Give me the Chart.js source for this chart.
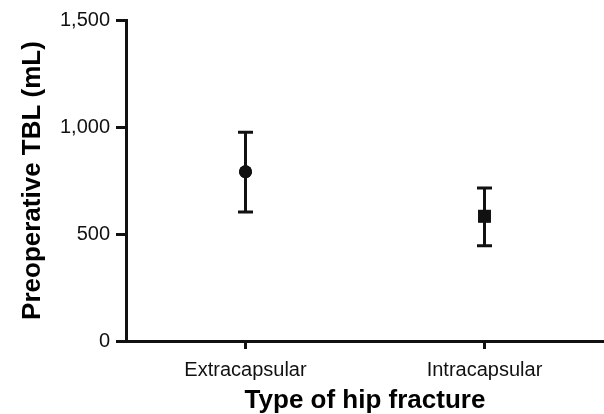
<!DOCTYPE html>
<html>
<head>
<meta charset="utf-8">
<script src="https://cdn.jsdelivr.net/npm/chart.js@4"></script>
<style>
  html, body { margin: 0; padding: 0; background: #fff; }
  #wrap { width: 604px; height: 414px; position: relative; }
</style>
</head>
<body>
<div id="wrap"><canvas id="c"></canvas></div>
<script>
const categories = ['Extracapsular', 'Intracapsular'];
const means = [791, 583];
const lowerBounds = [603, 445];
const upperBounds = [975, 715];
const yTicks = [0, 500, 1000, 1500];
const markerStyles = ['circle', 'rect'];

const errorBars = {
  id: 'errorBars',
  afterDatasetsDraw(chart) {
    const ctx = chart.ctx;
    const meta = chart.getDatasetMeta(0);
    const ys = chart.scales.y;
    ctx.save();
    ctx.strokeStyle = '#111';
    ctx.lineWidth = 3;
    meta.data.forEach((pt, i) => {
      const x = pt.x;
      const yt = ys.getPixelForValue(upperBounds[i]);
      const yb = ys.getPixelForValue(lowerBounds[i]);
      ctx.beginPath();
      ctx.moveTo(x, yt); ctx.lineTo(x, yb);
      ctx.moveTo(x - 7.5, yt); ctx.lineTo(x + 7.5, yt);
      ctx.moveTo(x - 7.5, yb); ctx.lineTo(x + 7.5, yb);
      ctx.stroke();
    });
    ctx.restore();
    meta.controller.draw();
  }
};

new Chart(document.getElementById('c'), {
  type: 'line',
  data: {
    labels: categories,
    datasets: [{
      data: means,
      showLine: false,
      pointStyle: markerStyles,
      pointRadius: [6.5, 9],
      pointBackgroundColor: '#111',
      pointBorderColor: '#111',
      pointBorderWidth: 0
    }]
  },
  options: {
    responsive: true,
    maintainAspectRatio: false,
    animation: false,
    events: [],
    layout: { autoPadding: false, padding: { left: 0, right: 0, top: 20, bottom: 0 } },
    plugins: { legend: { display: false }, tooltip: { enabled: false } },
    scales: {
      x: {
        type: 'category',
        offset: true,
        afterFit(s) { s.height = 73; },
        grid: { offset: false, drawOnChartArea: false, drawTicks: true, tickLength: 8, tickWidth: 3, tickColor: '#111' },
        border: { display: true, color: '#111', width: 3 },
        ticks: { color: '#111', font: { family: 'Liberation Sans', size: 20 }, padding: 9, maxRotation: 0 },
        title: { display: true, text: 'Type of hip fracture', color: '#000',
                 font: { family: 'Liberation Sans', size: 26, weight: 'bold', lineHeight: 1 },
                 padding: { top: 0, bottom: 0 } }
      },
      y: {
        min: 0, max: 1500,
        afterFit(s) { s.width = 126; },
        afterBuildTicks(s) { s.ticks = yTicks.map(v => ({ value: v })); },
        grid: { drawOnChartArea: false, drawTicks: true, tickLength: 10, tickWidth: 3, tickColor: '#111' },
        border: { display: true, color: '#111', width: 3 },
        ticks: { color: '#111', font: { family: 'Liberation Sans', size: 20 }, padding: 6,
                 callback: v => v.toLocaleString('en-US') },
        title: { display: true, text: 'Preoperative TBL (mL)', color: '#000',
                 font: { family: 'Liberation Sans', size: 26, weight: 'bold', lineHeight: 1 },
                 padding: { top: 20, bottom: 0 } }
      }
    }
  },
  plugins: [errorBars]
});
</script>
</body>
</html>
